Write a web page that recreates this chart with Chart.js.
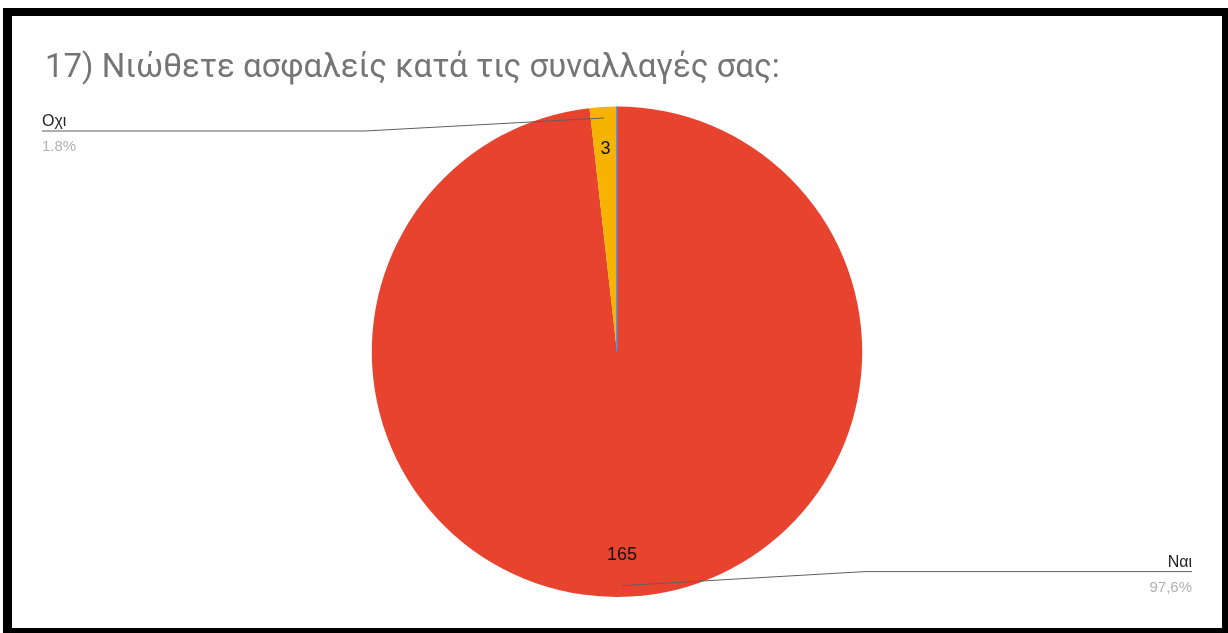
<!DOCTYPE html>
<html>
<head>
<meta charset="utf-8">
<script src="https://cdn.jsdelivr.net/npm/chart.js@4"></script>
<style>
  html, body { margin: 0; padding: 0; background: #fff; }
  #frame {
    position: absolute; left: 3px; top: 8px; right: 0; bottom: 0;
    border-style: solid; border-color: #000;
    border-width: 8px 6px 5px 9px;
    background: #fff;
  }
  #chart { display: block; }
</style>
</head>
<body>
<div id="frame"><canvas id="chart" width="1210" height="612"></canvas></div>
<script>
var titleText = "17) Νιώθετε ασφαλείς κατά τις συναλλαγές σας:";
var answers = ["Ναι", "Οχι"];
var counts = [165, 3];
var percents = ["97,6%", "1.8%"];
var colors = ["#e8432f", "#f6b400"];

// draws the counts inside the slices, the callout labels and the thin blue edge
var pieLabels = {
  id: "pieLabels",
  afterDatasetsDraw: function (chart) {
    var ctx = chart.ctx;
    var arcs = chart.getDatasetMeta(0).data;
    var W = chart.width;
    ctx.save();

    // blue seam along the end of the last slice
    var last = arcs[arcs.length - 1];
    ctx.strokeStyle = "#5a7fd6";
    ctx.lineWidth = 1.5;
    ctx.beginPath();
    ctx.moveTo(last.x, last.y);
    ctx.lineTo(last.x + Math.cos(last.endAngle) * last.outerRadius,
               last.y + Math.sin(last.endAngle) * last.outerRadius);
    ctx.stroke();

    arcs.forEach(function (arc, i) {
      var mid = (arc.startAngle + arc.endAngle) / 2;
      var r = arc.outerRadius;
      var cx = arc.x, cy = arc.y;

      // count inside slice
      ctx.fillStyle = "#111";
      ctx.font = "18px 'Liberation Sans', Arial, sans-serif";
      ctx.textAlign = "center";
      ctx.textBaseline = "middle";
      var lx = cx + Math.cos(mid) * r * 0.83;
      var ly = cy + Math.sin(mid) * r * 0.83;
      if (i === 0) lx = cx + 5;
      ctx.fillText(String(counts[i]), lx, ly);

      // callout
      var ax = cx + Math.cos(mid) * r * 0.955;
      var ay = cy + Math.sin(mid) * r * 0.955;
      if (i === 0) ax = cx + 5;
      var left = Math.cos(mid) < 0 || i === 1;
      var lineY = left ? ay + 13 : ay - 14;
      var elbowX = left ? cx - 252 : cx + 248;
      var endX = left ? 30 : W - 30;
      ctx.strokeStyle = "#5f5f5f";
      ctx.lineWidth = 1;
      ctx.beginPath();
      ctx.moveTo(ax, ay);
      ctx.lineTo(elbowX, lineY);
      ctx.lineTo(endX, lineY);
      ctx.stroke();

      ctx.textAlign = left ? "left" : "right";
      ctx.textBaseline = "alphabetic";
      ctx.fillStyle = "#222";
      ctx.font = "16px 'Liberation Sans', Arial, sans-serif";
      ctx.fillText(answers[i], endX, lineY - 5);
      ctx.fillStyle = "#b0b0b0";
      ctx.font = "15px 'Liberation Sans', Arial, sans-serif";
      ctx.fillText(percents[i], endX, lineY + 20);
    });
    ctx.restore();
  }
};

new Chart(document.getElementById("chart"), {
  type: "pie",
  data: {
    labels: answers,
    datasets: [{
      data: counts,
      backgroundColor: colors,
      borderWidth: 0
    }]
  },
  options: {
    responsive: false,
    animation: false,
    layout: { padding: { left: 33, right: 33, top: 0, bottom: 31 } },
    plugins: {
      legend: { display: false },
      tooltip: { enabled: false },
      title: {
        display: true,
        text: titleText,
        align: "start",
        color: "#757575",
        font: { family: "Roboto", size: 33, weight: "normal", lineHeight: 1.2 },
        padding: { top: 33, bottom: 18 }
      }
    }
  },
  plugins: [pieLabels]
});
</script>
</body>
</html>
